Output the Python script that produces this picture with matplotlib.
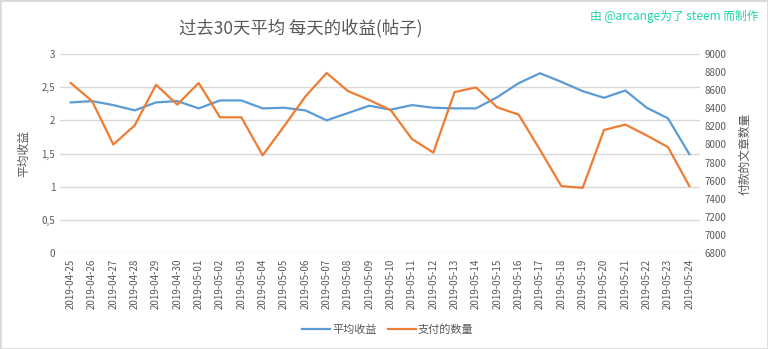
import matplotlib
matplotlib.use("Agg")
import matplotlib.pyplot as plt
from matplotlib.patches import Rectangle
from matplotlib.lines import Line2D
from matplotlib.ticker import FuncFormatter

plt.rcParams['font.family'] = ['Noto Sans CJK SC', 'DejaVu Sans']

# data
dates = ['2019-04-25', '2019-04-26', '2019-04-27', '2019-04-28', '2019-04-29', '2019-04-30',
         '2019-05-01', '2019-05-02', '2019-05-03', '2019-05-04', '2019-05-05', '2019-05-06',
         '2019-05-07', '2019-05-08', '2019-05-09', '2019-05-10', '2019-05-11', '2019-05-12',
         '2019-05-13', '2019-05-14', '2019-05-15', '2019-05-16', '2019-05-17', '2019-05-18',
         '2019-05-19', '2019-05-20', '2019-05-21', '2019-05-22', '2019-05-23', '2019-05-24']
avg_income = [2.27, 2.29, 2.23, 2.15, 2.27, 2.29, 2.18, 2.30, 2.30, 2.18, 2.19, 2.15,
              2.00, 2.11, 2.22, 2.16, 2.23, 2.19, 2.18, 2.18, 2.35, 2.56, 2.71, 2.58,
              2.44, 2.34, 2.45, 2.19, 2.03, 1.49]
paid_posts = [8680, 8480, 8000, 8210, 8660, 8440, 8680, 8300, 8300, 7880, 8200, 8530,
              8790, 8590, 8490, 8380, 8060, 7910, 8580, 8630, 8410, 8330, 7940, 7540,
              7520, 8160, 8220, 8100, 7970, 7540]

blue = '#5b9bd5'
orange = '#ed7d31'
txt = '#595959'

fig = plt.figure(figsize=(7.68, 3.49), dpi=100)
ax = fig.add_axes([60 / 768, 1 - 253 / 349, 640 / 768, 199 / 349])
ax2 = ax.twinx()

x = list(range(len(dates)))
ax.plot(x, avg_income, color=blue, lw=1.6, zorder=3)
ax2.plot(x, paid_posts, color=orange, lw=1.6, zorder=3)

ax.set_xlim(-0.5, len(dates) - 0.5)
ax.set_ylim(0, 3)
ax.set_yticks([0, 0.5, 1, 1.5, 2, 2.5, 3])
ax.yaxis.set_major_formatter(FuncFormatter(lambda v, p: ('%g' % v).replace('.', ',')))
ax2.set_ylim(6800, 9000)
ax2.set_yticks(range(6800, 9001, 200))

ax.set_xticks(x)
ax.set_xticklabels(dates, rotation=90, fontsize=7, color=txt)
ax.grid(axis='y', color='#d9d9d9', lw=1)
ax.set_axisbelow(True)
for a in (ax, ax2):
    for s in a.spines.values():
        s.set_visible(False)
    a.tick_params(length=0, labelsize=7, colors=txt)
ax.tick_params(axis='x', pad=4)

ax.set_ylabel('平均收益', fontsize=8.5, color=txt, labelpad=8)
ax2.set_ylabel('付款的文章数量', fontsize=8.5, color=txt, rotation=90, labelpad=8)

fig.text(0.392, 0.92, '过去30天平均 每天的收益(帖子)', fontsize=12.5, color=txt,
         ha='center', va='center')
fig.text(0.987, 0.952, '由 @arcange为了 steem 而制作', fontsize=8.5, color='#1ad6a8',
         ha='right', va='center')

handles = [Line2D([], [], color=blue, lw=1.6), Line2D([], [], color=orange, lw=1.6)]
fig.legend(handles, ['平均收益', '支付的数量'], loc='center', bbox_to_anchor=(0.505, 0.055),
           ncol=2, frameon=False, fontsize=8, labelcolor=txt, handlelength=2.5,
           handletextpad=0.2, columnspacing=1.0)

fig.patches.append(Rectangle((0, 0), 1, 1, transform=fig.transFigure, fill=False,
                             edgecolor='#d9d9d9', lw=2))

fig.savefig('out.png', dpi=100, facecolor='white')
